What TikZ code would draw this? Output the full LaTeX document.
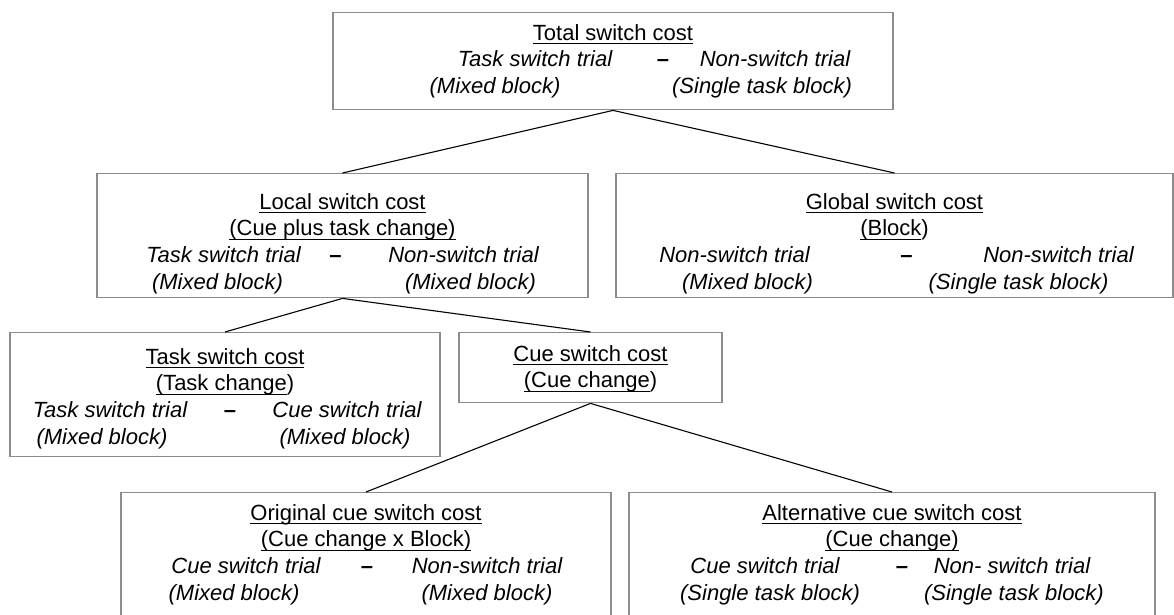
\documentclass[tikz,border=0pt]{standalone}
\usepackage{amsmath}
\usepackage{fontspec}
\setmainfont{Liberation Sans}
\usetikzlibrary{positioning}

% put #2 centred at horizontal offset #1 from the current point
\newcommand{\putat}[2]{\makebox[0pt]{\hspace*{#1}\hspace*{#1}#2}}
\newcommand{\diffrow}[5]{\putat{#1}{\itshape #2}\putat{#3}{\bfseries\textendash}\putat{#4}{\itshape #5}}
\newcommand{\blockrow}[4]{\putat{#1}{\itshape #2}\putat{#3}{\itshape #4}}
% underline just below the baseline, through the descenders
\newcommand{\ulbase}[1]{\underline{\smash[b]{#1}}}

\begin{document}
\begin{tikzpicture}[
    x=0.5pt, y=-0.5pt,
    % Define styles for the boxes
    box/.style={rectangle, draw=black!45, line width=0.7pt, anchor=north, inner sep=0pt},
    txt/.style={align=center, inner sep=0pt, font=\fontsize{11}{13.3}\selectfont},
    link/.style={line width=0.55pt, draw=black}
]
\useasboundingbox (0,0) rectangle (1174,615);

% ==========================================
% Level 1: Total switch cost
% ==========================================
\node[box, minimum width=280pt, minimum height=48.5pt] (total) at (613,12) {};
\node[txt, below=6pt of total.north] (total-txt) {\ulbase{Total switch cost}\\
    \diffrow{-39pt}{Task switch trial}{25pt}{81pt}{Non-switch trial}\\
    \blockrow{-59pt}{(Mixed block)}{74.5pt}{(Single task block)}};

% ==========================================
% Level 2: Local and global switch cost
% ==========================================
\node[box, minimum width=245.5pt, minimum height=62pt] (local) at (342.5,173) {};
\node[txt, below=10pt of local.north] (local-txt) {\ulbase{Local switch cost}\\
    \ulbase{(Cue plus task change)}\\
    \diffrow{-59.5pt}{Task switch trial}{-3.5pt}{60.5pt}{Non-switch trial}\\
    \blockrow{-62.5pt}{(Mixed block)}{64pt}{(Mixed block)}};

\node[box, minimum width=278.5pt, minimum height=62pt] (global) at (894.5,173) {};
\node[txt, below=10pt of global.north] (global-txt) {\ulbase{Global switch cost}\\
    \ulbase{(Block})\\
    \diffrow{-80pt}{Non-switch trial}{6pt}{82pt}{Non-switch trial}\\
    \blockrow{-73.5pt}{(Mixed block)}{62pt}{(Single task block)}};

\draw[link] (total.south) -- (local.north);
\draw[link] (total.south) -- (global.north);

% ==========================================
% Level 3: Task switch and cue switch cost
% ==========================================
\node[box, minimum width=215pt, minimum height=62pt] (task) at (225,332) {};
\node[txt, below=8pt of task.north] (task-txt) {\ulbase{Task switch cost}\\
    \ulbase{(Task change})\\
    \diffrow{-57.5pt}{Task switch trial}{2.5pt}{61pt}{Cue switch trial}\\
    \blockrow{-61.5pt}{(Mixed block)}{60pt}{(Mixed block)}};

\node[box, minimum width=131.5pt, minimum height=35pt] (cue) at (590.5,332) {};
\node[txt, below=6.5pt of cue.north] (cue-txt) {\ulbase{Cue switch cost}\\
    \ulbase{(Cue change})};

\draw[link] (local.south) -- (task.north);
\draw[link] (local.south) -- (cue.north);

% ==========================================
% Level 4: Original and alternative cue switch cost
% ==========================================
\node[box, minimum width=245pt, minimum height=66.5pt] (orig) at (366,492) {};
\node[txt, below=6pt of orig.north] (orig-txt) {\ulbase{Original cue switch cost}\\
    \ulbase{(Cue change x Block)}\\
    \diffrow{-60pt}{Cue switch trial}{0.5pt}{60.5pt}{Non-switch trial}\\
    \blockrow{-66pt}{(Mixed block)}{60.5pt}{(Mixed block)}};

\node[box, minimum width=263pt, minimum height=66.5pt] (alt) at (892,492) {};
\node[txt, below=6pt of alt.north] (alt-txt) {\ulbase{Alternative cue switch cost}\\
    \ulbase{(Cue change)}\\
    \diffrow{-63.5pt}{Cue switch trial}{5pt}{60pt}{Non- switch trial}\\
    \blockrow{-61pt}{(Single task block)}{61pt}{(Single task block)}};

\draw[link] (cue.south) -- (orig.north);
\draw[link] (cue.south) -- (alt.north);

\end{tikzpicture}
\end{document}
